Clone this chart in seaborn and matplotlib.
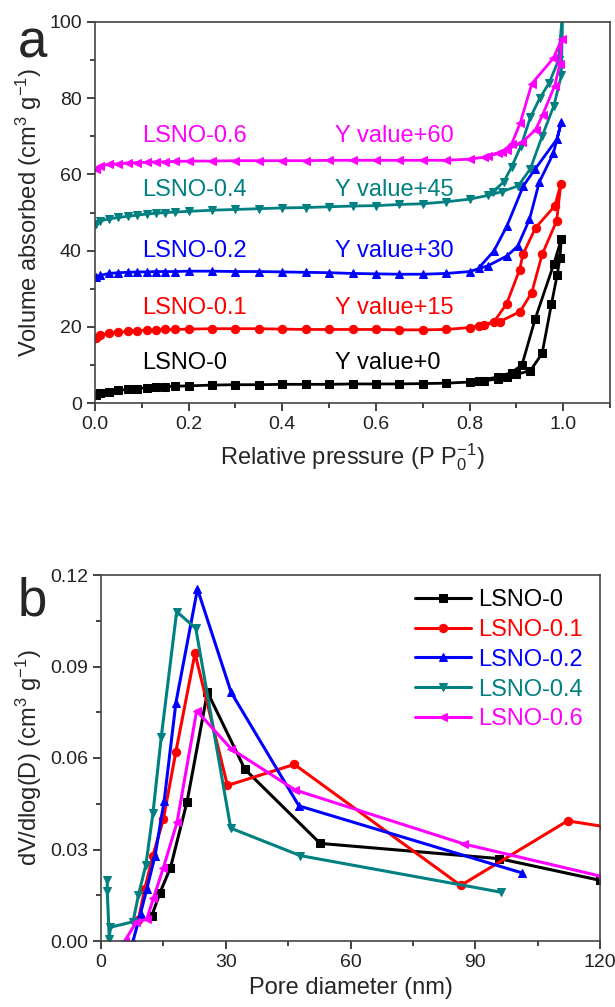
import matplotlib
matplotlib.use('Agg')

import numpy as np
import pandas as pd
import seaborn as sns
import matplotlib.pyplot as plt
from matplotlib.ticker import MultipleLocator

# ---------------- panel a: N2 isotherms (raw values, offsets added when plotting)
names = ['LSNO-0', 'LSNO-0.1', 'LSNO-0.2', 'LSNO-0.4', 'LSNO-0.6']
colors = ['#000000', '#ff0000', '#0000ff', '#008080', '#ff00ff']
markers = ['s', 'o', '^', 'v', '<']
offsets = [0, 15, 30, 45, 60]

# shared low pressure points (adsorption branch)
p_low = [0.003, 0.01, 0.03, 0.05, 0.07, 0.09, 0.11, 0.13, 0.15, 0.17, 0.2, 0.25,
         0.3, 0.35, 0.4, 0.45, 0.5, 0.55, 0.6, 0.65, 0.7, 0.75, 0.8]

v_low_0 = [2.0, 2.6, 3.0, 3.3, 3.6, 3.8, 4.0, 4.2, 4.3, 4.4, 4.5, 4.7,
           4.8, 4.8, 4.9, 4.9, 4.9, 5.0, 5.0, 5.0, 5.1, 5.2, 5.5]
v_low_01 = [2.0, 2.8, 3.3, 3.6, 3.8, 4.0, 4.1, 4.2, 4.3, 4.3, 4.4, 4.5,
            4.5, 4.5, 4.4, 4.3, 4.3, 4.3, 4.3, 4.2, 4.2, 4.3, 4.8]
v_low_02 = [3.0, 3.5, 4.0, 4.2, 4.3, 4.4, 4.4, 4.5, 4.5, 4.5, 4.6, 4.6,
            4.5, 4.5, 4.4, 4.3, 4.2, 4.0, 3.9, 3.8, 3.8, 4.0, 4.5]
v_low_04 = [2.0, 2.8, 3.3, 3.7, 4.0, 4.3, 4.6, 4.8, 5.0, 5.1, 5.3, 5.6,
            5.8, 6.0, 6.2, 6.3, 6.5, 6.7, 6.8, 7.1, 7.3, 7.8, 8.5]
v_low_06 = [1.5, 2.2, 2.6, 2.8, 3.0, 3.1, 3.2, 3.3, 3.3, 3.4, 3.5, 3.5,
            3.6, 3.6, 3.6, 3.6, 3.7, 3.7, 3.7, 3.7, 3.7, 3.7, 4.0]

# high pressure part: end of adsorption, then desorption back down
p_hi_0 = [0.83, 0.86, 0.88, 0.9, 0.93, 0.955, 0.975, 0.987, 0.993, 0.996,
          0.98, 0.94, 0.912, 0.89, 0.86, 0.82]
v_hi_0 = [5.8, 6.3, 6.8, 7.5, 8.5, 13.0, 26.0, 33.5, 38.0, 43.0,
          36.5, 22.0, 10.0, 8.0, 6.8, 5.9]
p_hi_01 = [0.83, 0.864, 0.908, 0.933, 0.955, 0.986, 0.995,
           0.982, 0.941, 0.914, 0.907, 0.879, 0.852, 0.82]
v_hi_01 = [5.5, 6.3, 9.0, 14.0, 24.0, 32.8, 42.5,
           36.7, 31.0, 24.0, 20.0, 11.0, 6.3, 5.2]
p_hi_02 = [0.839, 0.88, 0.903, 0.928, 0.949, 0.979, 0.996,
           0.987, 0.94, 0.915, 0.88, 0.852, 0.82]
v_hi_02 = [6.0, 8.6, 11.2, 18.2, 28.0, 35.5, 43.7,
           39.3, 31.4, 27.0, 16.5, 9.9, 5.5]
p_hi_04 = [0.84, 0.87, 0.904, 0.93, 0.955, 0.98, 0.996, 0.999,
           0.99, 0.97, 0.95, 0.93, 0.91, 0.89, 0.873, 0.85]
v_hi_04 = [9.5, 10.5, 12.0, 16.5, 25.0, 33.0, 41.0, 58.0,
           45.0, 39.0, 35.0, 30.0, 22.5, 17.0, 13.0, 10.5]
p_hi_06 = [0.83, 0.86, 0.88, 0.912, 0.941, 0.956, 0.982, 0.993, 0.997,
           0.979, 0.933, 0.908, 0.89, 0.87, 0.84]
v_hi_06 = [4.5, 5.5, 6.5, 8.4, 11.7, 15.6, 23.3, 29.0, 35.5,
           30.5, 23.8, 13.4, 8.0, 6.0, 4.8]

v_lows = [v_low_0, v_low_01, v_low_02, v_low_04, v_low_06]
p_his = [p_hi_0, p_hi_01, p_hi_02, p_hi_04, p_hi_06]
v_his = [v_hi_0, v_hi_01, v_hi_02, v_hi_04, v_hi_06]

# ---------------- panel b: pore size distribution
d_0 = [12.2, 14.2, 16.7, 20.7, 25.6, 34.6, 52.7, 95.8, 120.0]
psd_0 = [0.0082, 0.0159, 0.024, 0.0457, 0.0816, 0.0563, 0.032, 0.027, 0.0199]
d_01 = [9.0, 10.5, 12.5, 15.0, 18.0, 22.6, 30.4, 46.5, 86.5, 112.2, 121.0]
psd_01 = [0.007, 0.017, 0.028, 0.040, 0.062, 0.0943, 0.051, 0.0579, 0.0182, 0.0394, 0.0375]
d_02 = [7.7, 9.5, 11.0, 13.0, 15.2, 18.0, 23.2, 31.3, 47.6, 101.3]
psd_02 = [0.0, 0.009, 0.017, 0.028, 0.046, 0.078, 0.1154, 0.0815, 0.0443, 0.0223]
d_04 = [1.5, 1.5, 2.0, 2.2, 7.7, 9.0, 10.8, 12.5, 14.5, 18.2, 22.8, 31.2, 47.9, 96.2]
psd_04 = [0.020, 0.0165, 0.0005, 0.0045, 0.0063, 0.015, 0.025, 0.042, 0.067, 0.108,
          0.1025, 0.037, 0.028, 0.016]
d_06 = [5.7, 8.5, 11.0, 12.6, 15.0, 18.3, 23.0, 31.3, 46.7, 87.3, 120.0]
psd_06 = [0.0, 0.0062, 0.0071, 0.014, 0.024, 0.039, 0.0755, 0.063, 0.0495, 0.0318, 0.0213]

ds = [d_0, d_01, d_02, d_04, d_06]
psds = [psd_0, psd_01, psd_02, psd_04, psd_06]

sns.set_theme(style='ticks')
plt.rcParams['font.family'] = ['Liberation Sans', 'DejaVu Sans']
plt.rcParams['mathtext.fontset'] = 'custom'
plt.rcParams['mathtext.rm'] = 'Liberation Sans'
plt.rcParams['mathtext.default'] = 'regular'

fig = plt.figure(figsize=(6.15, 10.07), dpi=100)
ax1 = fig.add_axes([95 / 615, 1 - 403 / 1007, 515 / 615, 381 / 1007])
ax2 = fig.add_axes([101 / 615, 1 - 941 / 1007, 499 / 615, 366 / 1007])

for i in range(5):
    df = pd.DataFrame({'p': p_low + p_his[i],
                       'v': np.array(v_lows[i] + v_his[i]) + offsets[i]})
    sns.lineplot(data=df, x='p', y='v', sort=False, estimator=None, ax=ax1,
                 color=colors[i], marker=markers[i], markersize=6,
                 markeredgecolor=colors[i], linewidth=2)

label_y = [10.5, 25, 40, 56, 70]
for i in range(5):
    ax1.text(0.10, label_y[i], names[i], color=colors[i], fontsize=17, va='center')
    ax1.text(0.512, label_y[i], 'Y value+%d' % offsets[i], color=colors[i],
             fontsize=17, va='center')

ax1.set_xlim(0, 1.1)
ax1.set_ylim(0, 100)
ax1.xaxis.set_major_locator(MultipleLocator(0.2))
ax1.xaxis.set_minor_locator(MultipleLocator(0.1))
ax1.yaxis.set_major_locator(MultipleLocator(20))
ax1.yaxis.set_minor_locator(MultipleLocator(10))
ax1.xaxis.set_major_formatter(matplotlib.ticker.FormatStrFormatter('%.1f'))
ax1.set_xlabel('Relative pressure (P P$_0^{-1}$)', fontsize=17, labelpad=6)
ax1.set_ylabel('Volume absorbed (cm$^3$ g$^{-1}$)', fontsize=17)

for i in range(5):
    df = pd.DataFrame({'d': ds[i], 'psd': psds[i]})
    sns.lineplot(data=df, x='d', y='psd', sort=False, estimator=None, ax=ax2,
                 color=colors[i], marker=markers[i], markersize=6,
                 markeredgecolor=colors[i], linewidth=2.2, label=names[i])

ax2.set_xlim(0, 120)
ax2.set_ylim(0, 0.12)
ax2.xaxis.set_major_locator(MultipleLocator(30))
ax2.xaxis.set_minor_locator(MultipleLocator(15))
ax2.yaxis.set_major_locator(MultipleLocator(0.03))
ax2.yaxis.set_minor_locator(MultipleLocator(0.015))
ax2.yaxis.set_major_formatter(matplotlib.ticker.FormatStrFormatter('%.2f'))
ax2.set_xlabel('Pore diameter (nm)', fontsize=17)
ax2.set_ylabel('dV/dlog(D) (cm$^3$ g$^{-1}$)', fontsize=17)
ax2.legend(loc='upper left', bbox_to_anchor=(0.6, 1.0), frameon=False,
           fontsize=17, handlelength=2.4, handletextpad=0.3, labelspacing=0.33,
           labelcolor='linecolor', borderaxespad=0.2)

for ax in (ax1, ax2):
    for sp in ax.spines.values():
        sp.set_color('#444444')
        sp.set_linewidth(1.2)
    ax.tick_params(which='major', direction='out', length=6, width=1.2,
                   labelsize=14, colors='#222222', top=False, right=False)
    ax.tick_params(which='minor', direction='out', length=3.5, width=1.2,
                   colors='#222222', top=False, right=False)

fig.text(18 / 615, 1 - 58 / 1007, 'a', fontsize=38)
fig.text(18 / 615, 1 - 615 / 1007, 'b', fontsize=38)

fig.savefig('out.png', dpi=100)
